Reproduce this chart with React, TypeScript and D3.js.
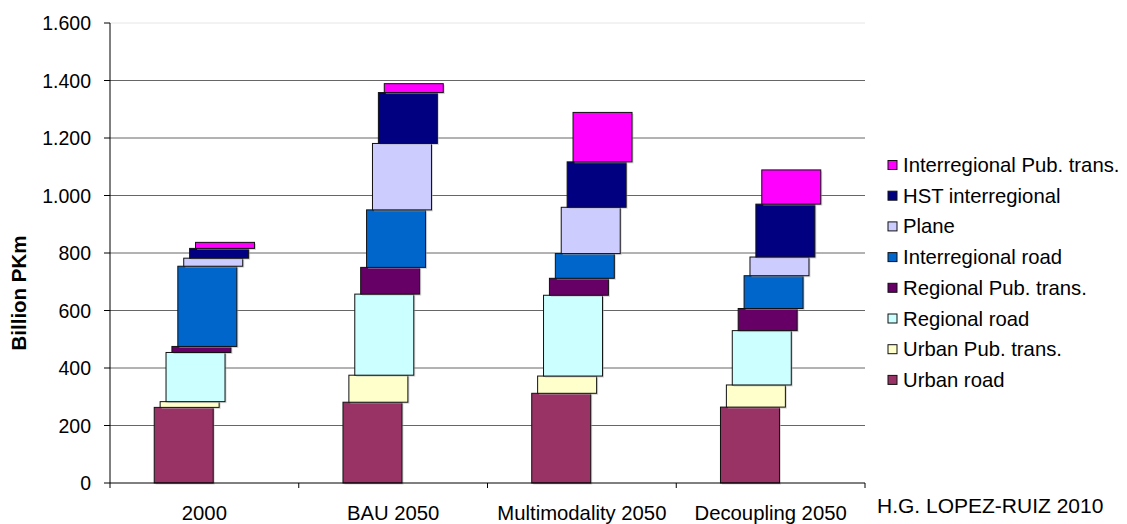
import React from "react";
import * as d3 from "d3";

const categories = ["2000", "BAU 2050", "Multimodality 2050", "Decoupling 2050"];
const seriesNames = [
  "Urban road",
  "Urban Pub. trans.",
  "Regional road",
  "Regional Pub. trans.",
  "Interregional road",
  "Plane",
  "HST interregional",
  "Interregional Pub. trans.",
];
const seriesColors = ["#993366", "#FFFFCC", "#CCFFFF", "#660066", "#0066CC", "#CCCCFF", "#000080", "#FF00FF"];
// values per series, one entry per category
const urbanRoad = [263, 281, 312, 264];
const urbanPub = [20, 94, 60, 77];
const regionalRoad = [171, 282, 281, 189];
const regionalPub = [21, 93, 59, 77];
const interRoad = [279, 200, 86, 114];
const plane = [28, 231, 161, 65];
const hst = [34, 177, 158, 184];
const interPub = [21, 31, 172, 119];
const seriesValues = [urbanRoad, urbanPub, regionalRoad, regionalPub, interRoad, plane, hst, interPub];
const yTicks = [0, 200, 400, 600, 800, 1000, 1200, 1400, 1600];
const yLabel = "Billion PKm";
const credit = "H.G. LOPEZ-RUIZ 2010";

const W = 1127;
const H = 524;
const FONT = "'Liberation Sans', Arial, sans-serif";

export default function App() {
  const x = d3.scaleBand<string>().domain(categories).range([110, 865]).padding(0);
  const y = d3.scaleLinear().domain([0, 1600]).range([483, 23]);
  const fmt = d3.formatLocale({ decimal: ",", thousands: ".", grouping: [3], currency: ["", ""] }).format(",");
  const barW = 59;
  const step = 5.9;
  const span = barW + step * (seriesNames.length - 1);
  const offset = d3.scaleLinear().domain([0, seriesNames.length - 1]).range([0, step * (seriesNames.length - 1)]);

  const rows = categories.map((c, ci) => {
    const vals = seriesValues.map((s) => s[ci]);
    const cum = d3.cumsum(vals);
    return vals.map((v, si) => ({ c, si, y0: cum[si] - v, y1: cum[si] }));
  });

  const boundaries = [...categories.map((c) => x(c)!), 865];

  return (
    <svg width={W} height={H} style={{ position: "absolute", left: 0, top: 0, background: "#fff" }} fontFamily={FONT}>
      <rect x={0} y={0} width={W} height={H} fill="#fff" />
      {/* gridlines */}
      {yTicks.filter((t) => t > 0).map((t) => (
        <line key={t} x1={110} x2={865} y1={y(t)} y2={y(t)} stroke={t === 1600 ? "#e6e6e6" : "#666"} strokeWidth={1} />
      ))}
      {/* bars */}
      {rows.map((segs, ci) =>
        segs.map((s) => {
          const left = x(s.c)! + x.bandwidth() / 2 - span / 2 + offset(s.si);
          const top = y(s.y1);
          const h = y(s.y0) - y(s.y1);
          return (
            <g key={ci + "-" + s.si}>
              <rect x={left + 1.5} y={top + 1.5} width={barW} height={h} fill="#b0b0b0" opacity={0.5} />
              <rect x={left} y={top} width={barW} height={h} fill={seriesColors[s.si]} stroke="#111" strokeWidth={1} />
            </g>
          );
        })
      )}
      {/* y axis */}
      <line x1={110} x2={110} y1={23} y2={483} stroke="#000" />
      {yTicks.map((t) => (
        <g key={t}>
          <line x1={104} x2={110} y1={y(t)} y2={y(t)} stroke="#000" />
          <text x={91} y={y(t) + 7} textAnchor="end" fontSize={19.5} fill="#000">
            {fmt(t)}
          </text>
        </g>
      ))}
      {/* x axis */}
      <line x1={110} x2={865} y1={483} y2={483} stroke="#000" />
      {boundaries.map((b, i) => (
        <line key={i} x1={b} x2={b} y1={483} y2={488} stroke="#000" />
      ))}
      {categories.map((c) => (
        <text key={c} x={x(c)! + x.bandwidth() / 2} y={520} textAnchor="middle" fontSize={20.3} fill="#000">
          {c}
        </text>
      ))}
      {/* y label */}
      <text transform={`translate(26,293) rotate(-90)`} textAnchor="middle" fontSize={20.5} fontWeight="bold" fill="#000">
        {yLabel}
      </text>
      {/* legend */}
      {seriesNames.slice().reverse().map((n, i) => {
        const si = seriesNames.length - 1 - i;
        const cy = 165 + i * 30.7;
        return (
          <g key={n}>
            <rect x={888} y={cy - 4.5} width={9} height={9} fill={seriesColors[si]} stroke="#111" strokeWidth={1} />
            <text x={903} y={cy + 7} fontSize={20.3} fill="#000">
              {n}
            </text>
          </g>
        );
      })}
      <text x={877} y={513} fontSize={21} fill="#000">
        {credit}
      </text>
    </svg>
  );
}
